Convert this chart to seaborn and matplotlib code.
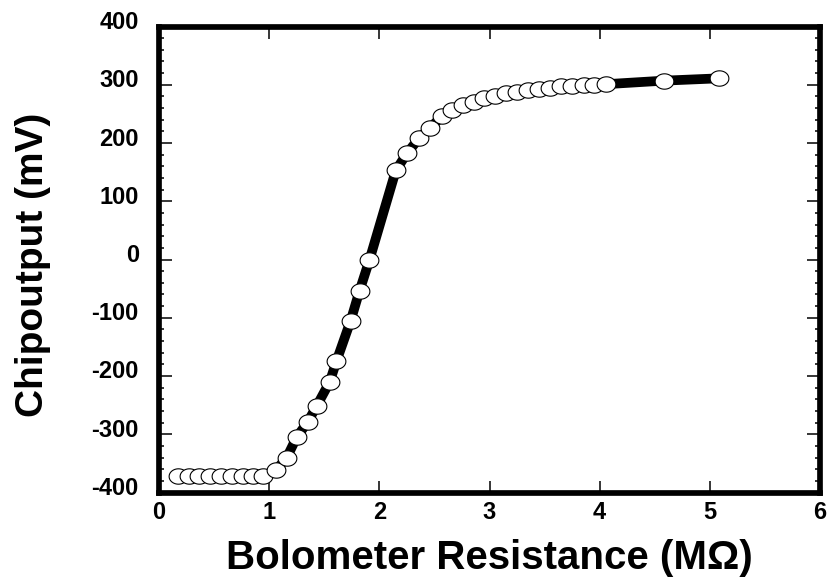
import numpy as np
import pandas as pd
import seaborn as sns
import matplotlib.pyplot as plt
import matplotlib.transforms as mtransforms
from matplotlib.path import Path
from matplotlib.ticker import MultipleLocator

# Bolometer resistance (MOhm) and chip output (mV)
resistance = [0.17, 0.27, 0.36, 0.46, 0.56, 0.66, 0.76, 0.85, 0.94,
              1.06, 1.16, 1.25, 1.35, 1.43, 1.55, 1.61, 1.74, 1.82, 1.91,
              2.15, 2.25, 2.36, 2.46, 2.57, 2.66, 2.76, 2.86, 2.95, 3.05,
              3.15, 3.25, 3.35, 3.45, 3.55, 3.65, 3.75, 3.86, 3.95, 4.06,
              4.58, 5.08]
output_mv = [-372, -372, -372, -372, -372, -372, -372, -372, -372,
             -362, -340, -305, -279, -252, -210, -175, -105, -54, -1,
             153, 182, 208, 226, 246, 257, 265, 271, 277, 281,
             285, 288, 291, 293, 295, 297, 298, 299, 300, 301,
             307, 311]

x_ticks = [0, 1, 2, 3, 4, 5, 6]
y_ticks = [-400, -300, -200, -100, 0, 100, 200, 300, 400]

df = pd.DataFrame({"R": resistance, "V": output_mv})

sns.set_theme(style="ticks")
plt.rcParams["font.family"] = ["Liberation Sans", "DejaVu Sans"]
plt.rcParams["font.weight"] = "bold"

fig = plt.figure(figsize=(8.3, 5.8), dpi=100)
ax = fig.add_axes([159 / 830, 87.5 / 580, 661 / 830, 466 / 580])

# elliptical open marker
t = np.linspace(0, 2 * np.pi, 80)
ellipse = Path(np.column_stack([np.cos(t), 0.82 * np.sin(t)]), closed=True)

sns.lineplot(data=df, x="R", y="V", ax=ax, sort=False, estimator=None,
             color="black", linewidth=7, marker=ellipse, markersize=13.5,
             markerfacecolor="white", markeredgecolor="black",
             markeredgewidth=0.8, legend=False)

ax.set_xlim(0, 6)
ax.set_ylim(-400, 400)
ax.set_xticks(x_ticks)
ax.set_yticks(y_ticks)
ax.set_xticklabels([str(v) for v in x_ticks])
ax.set_yticklabels([str(v) for v in y_ticks])
ax.yaxis.set_minor_locator(MultipleLocator(20))

for side in ["left", "right", "top", "bottom"]:
    ax.spines[side].set_visible(True)
    ax.spines[side].set_linewidth(4.1)
    ax.spines[side].set_color("black")

ax.tick_params(axis="x", which="major", direction="in", top=True, bottom=True,
               length=8.6, width=1.1, color="black", pad=6,
               labelsize=17, labelcolor="black")
ax.tick_params(axis="y", which="major", direction="in", left=True, right=True,
               length=9.4, width=1.1, color="black", pad=14.5,
               labelsize=17, labelcolor="black")
ax.tick_params(axis="y", which="minor", direction="in", left=True, right=True,
               length=3.6, width=1.1, color="black")

# raise the y tick labels slightly above their ticks
shift = mtransforms.ScaledTranslation(0, 6.5 / 100, fig.dpi_scale_trans)
for lab in ax.get_yticklabels():
    lab.set_transform(lab.get_transform() + shift)
    lab.set_fontweight("bold")
for lab in ax.get_xticklabels():
    lab.set_fontweight("bold")

ax.set_xlabel("Bolometer Resistance (MΩ)", fontsize=29, fontweight="bold",
              color="black", labelpad=11)
ax.set_ylabel("Chipoutput (mV)", fontsize=28, fontweight="bold",
              color="black")
ax.yaxis.set_label_coords(-0.163, 0.488)
ax.grid(False)

fig.savefig("out.png", dpi=100, facecolor="white")
